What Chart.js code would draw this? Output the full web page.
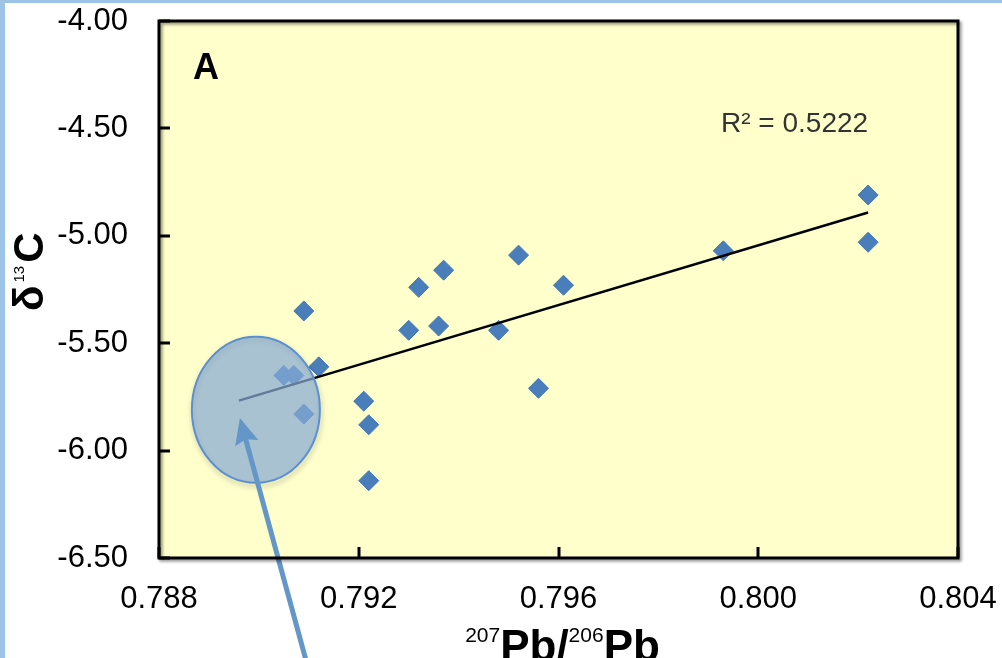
<!DOCTYPE html>
<html lang="en">
<head>
<meta charset="UTF-8">
<title>δ13C vs 207Pb/206Pb</title>
<script src="https://cdn.jsdelivr.net/npm/chart.js"></script>
<style>
  html, body { margin: 0; padding: 0; background: #fff; }
  canvas { display: block; }
</style>
</head>
<body>
<canvas id="chart" width="1002" height="658"></canvas>
<script>
// values
const pbRatio = [0.7909, 0.7905, 0.7907, 0.7912, 0.7909, 0.7921, 0.7922, 0.7922, 0.7930, 0.7932,
                 0.7936, 0.7937, 0.7948, 0.7952, 0.7956, 0.7961, 0.7993, 0.8022, 0.8022];
const d13C = [-5.35, -5.65, -5.65, -5.61, -5.83, -5.77, -5.88, -6.14, -5.44, -5.24,
              -5.42, -5.16, -5.44, -5.09, -5.71, -5.23, -5.07, -4.81, -5.03];
const xTicks = [0.788, 0.792, 0.796, 0.800, 0.804];
const yTicks = [-6.50, -6.00, -5.50, -5.00, -4.50, -4.00];
const trendFrom = 0.7896;          // trendline is extended back a little
const r2Label = "R² = 0.5222";
const panelLabel = "A";
// highlighted region (circle + arrow)
const circleCenter = { x: 0.78994, y: -5.81 };
const arrowTip = { x: 0.78962, y: -5.848 };

const FONT = "'Liberation Sans', Arial, sans-serif";

function linFit(xs, ys) {
  const n = xs.length;
  const mx = xs.reduce((a, b) => a + b, 0) / n;
  const my = ys.reduce((a, b) => a + b, 0) / n;
  let sxy = 0, sxx = 0;
  for (let i = 0; i < n; i++) {
    sxy += (xs[i] - mx) * (ys[i] - my);
    sxx += (xs[i] - mx) * (xs[i] - mx);
  }
  const b = sxy / sxx;
  return { a: my - b * mx, b: b };
}

const fit = linFit(pbRatio, d13C);
const trendTo = Math.max(...pbRatio);
const trendData = [trendFrom, trendTo].map(x => ({ x: x, y: fit.a + fit.b * x }));
const points = pbRatio.map((x, i) => ({ x: x, y: d13C[i] }));

const decorations = {
  id: 'decorations',
  beforeDraw(chart) {
    const ctx = chart.ctx, a = chart.chartArea;
    ctx.save();
    // frame strip of the screenshot
    ctx.fillStyle = '#9dc3e6';
    ctx.fillRect(0, 0, chart.width, 3);
    ctx.fillRect(0, 0, 5, chart.height);
    // plot area
    ctx.fillStyle = '#ffffcc';
    ctx.fillRect(a.left, a.top, a.right - a.left, a.bottom - a.top);
    ctx.restore();
  },
  afterDatasetsDraw(chart) {
    const ctx = chart.ctx;
    const xs = chart.scales.x, ys = chart.scales.y;
    ctx.save();

    // circle over the low-ratio points
    const cx = xs.getPixelForValue(circleCenter.x), cy = ys.getPixelForValue(circleCenter.y);
    ctx.save();
    ctx.beginPath();
    ctx.ellipse(cx + 1, cy + 3, 64, 73, 0, 0, Math.PI * 2);
    ctx.strokeStyle = 'rgba(0,0,0,0.12)';
    ctx.lineWidth = 5;
    ctx.filter = 'blur(2px)';
    ctx.stroke();
    ctx.restore();
    ctx.beginPath();
    ctx.ellipse(cx, cy, 64, 73, 0, 0, Math.PI * 2);
    ctx.fillStyle = 'rgba(136,170,210,0.72)';
    ctx.fill();
    ctx.lineWidth = 2;
    ctx.strokeStyle = '#5b8fd0';
    ctx.stroke();

    // arrow pointing into the circle
    const tx = xs.getPixelForValue(arrowTip.x), ty = ys.getPixelForValue(arrowTip.y);
    const dx = 66, dy = 242, len = Math.hypot(dx, dy);
    const ux = dx / len, uy = dy / len;
    ctx.strokeStyle = '#6496c8';
    ctx.fillStyle = '#6496c8';
    ctx.lineWidth = 5;
    ctx.beginPath();
    ctx.moveTo(tx + ux * 20, ty + uy * 20);
    ctx.lineTo(tx + dx, ty + dy);
    ctx.stroke();
    ctx.beginPath();
    ctx.moveTo(tx, ty);
    ctx.lineTo(tx + ux * 26 - uy * 12, ty + uy * 26 + ux * 12);
    ctx.lineTo(tx + ux * 22, ty + uy * 22);
    ctx.lineTo(tx + ux * 26 + uy * 12, ty + uy * 26 - ux * 12);
    ctx.closePath();
    ctx.fill();
    ctx.restore();
  },
  afterDraw(chart) {
    const ctx = chart.ctx, a = chart.chartArea;
    const xs = chart.scales.x, ys = chart.scales.y;
    ctx.save();
    // plot border with shadow
    ctx.shadowColor = 'rgba(0,0,0,0.45)';
    ctx.shadowBlur = 3;
    ctx.shadowOffsetX = 2;
    ctx.shadowOffsetY = 2;
    ctx.strokeStyle = '#000';
    ctx.lineWidth = 3;
    ctx.strokeRect(a.left, a.top, a.right - a.left, a.bottom - a.top);
    ctx.shadowColor = 'transparent';

    // inward tick marks
    ctx.lineWidth = 3;
    ctx.beginPath();
    xTicks.forEach(v => {
      const px = Math.round(xs.getPixelForValue(v));
      ctx.moveTo(px, a.bottom);
      ctx.lineTo(px, a.bottom - 11);
    });
    yTicks.forEach(v => {
      const py = Math.round(ys.getPixelForValue(v));
      ctx.moveTo(a.left, py);
      ctx.lineTo(a.left + 11, py);
    });
    ctx.stroke();

    // panel letter and R² label
    ctx.fillStyle = '#000';
    ctx.textBaseline = 'alphabetic';
    ctx.textAlign = 'left';
    ctx.font = 'bold 36px ' + FONT;
    ctx.fillText(panelLabel, a.left + 34, a.top + 58);
    ctx.fillStyle = '#333';
    ctx.font = '28px ' + FONT;
    ctx.fillText(r2Label, 721, 132);

    // x title: 207Pb/206Pb
    ctx.fillStyle = '#000';
    const big = 'bold 44px ' + FONT, sup = '21px ' + FONT;
    const parts = [[sup, '207', -19], [big, 'Pb', 0], [big, '/', 0], [sup, '206', -19], [big, 'Pb', 0]];
    let total = 0;
    parts.forEach(p => { ctx.font = p[0]; total += ctx.measureText(p[1]).width; });
    let x = (a.left + a.right) / 2 + 4 - total / 2;
    const base = 661;
    parts.forEach(p => {
      ctx.font = p[0];
      ctx.fillText(p[1], x, base + p[2]);
      x += ctx.measureText(p[1]).width;
    });

    // y title: δ13C, rotated
    ctx.translate(43, 311);
    ctx.rotate(-Math.PI / 2);
    const yparts = [['bold 42px ' + FONT, 'δ', 0], ['15px ' + FONT, '13', -19], ['bold 42px ' + FONT, 'C', 0]];
    let u = 0;
    yparts.forEach(p => {
      ctx.font = p[0];
      ctx.fillText(p[1], u, p[2]);
      u += ctx.measureText(p[1]).width + 3;
    });
    ctx.restore();
  }
};

new Chart(document.getElementById('chart').getContext('2d'), {
  type: 'scatter',
  data: {
    datasets: [
      {
        label: 'Trend',
        type: 'line',
        data: trendData,
        borderColor: '#000',
        borderWidth: 2.5,
        pointRadius: 0,
        fill: false,
        order: 0
      },
      {
        label: 'Samples',
        data: points,
        pointStyle: 'rectRot',
        pointRadius: 10,
        backgroundColor: '#4a7ebb',
        borderColor: '#4577b5',
        borderWidth: 1,
        order: 1
      }
    ]
  },
  options: {
    responsive: false,
    animation: false,
    layout: { padding: { top: 21, right: 44, left: 0, bottom: 0 } },
    plugins: { legend: { display: false }, tooltip: { enabled: false } },
    scales: {
      x: {
        type: 'linear',
        min: xTicks[0],
        max: xTicks[xTicks.length - 1],
        grid: { display: false, drawTicks: false },
        border: { display: false },
        afterBuildTicks: s => { s.ticks = xTicks.map(v => ({ value: v })); },
        afterFit: s => { s.height = 100; s.paddingLeft = 0; s.paddingRight = 0; },
        ticks: {
          color: '#000',
          padding: 23,
          maxRotation: 0,
          font: { family: FONT, size: 31 },
          callback: v => v.toFixed(3)
        }
      },
      y: {
        type: 'linear',
        min: yTicks[0],
        max: yTicks[yTicks.length - 1],
        grid: { display: false, drawTicks: false },
        border: { display: false },
        afterBuildTicks: s => { s.ticks = yTicks.map(v => ({ value: v })); },
        afterFit: s => { s.width = 159; s.paddingTop = 0; s.paddingBottom = 0; },
        ticks: {
          color: '#000',
          padding: 31,
          font: { family: FONT, size: 31 },
          callback: v => v.toFixed(2)
        }
      }
    }
  },
  plugins: [decorations]
});
</script>
</body>
</html>
